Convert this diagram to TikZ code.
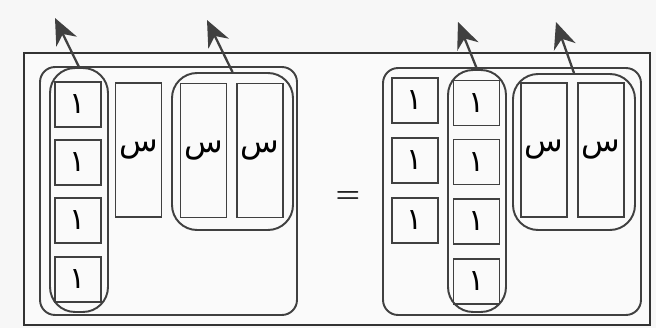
\documentclass[tikz,border=0pt]{standalone}
\usepackage{fontspec}
\newfontfamily\arabicfont[Script=Arabic]{DejaVu Sans}
\TeXXeTstate=1
\usetikzlibrary{arrows.meta}
\begin{document}
\begin{tikzpicture}[
        x=0.02cm, y=-0.02cm,
        every node/.style={line width=1.1pt, draw=black!75, inner sep=0pt},
        unit/.style={rectangle, minimum width=0.92cm, minimum height=0.9cm, font=\arabicfont\fontsize{17}{19}\selectfont},
        xbar/.style={rectangle, minimum width=0.92cm, minimum height=2.68cm, font=\arabicfont\fontsize{18}{20}\selectfont},
        pill/.style={rectangle, rounded corners=0.5cm},
        group/.style={rectangle, rounded corners=0.3cm},
        arrow/.style={line width=1.3pt, black!75, -{Stealth[length=15pt, width=13pt]}}
    ]
        \useasboundingbox (0,0) rectangle (656,328);
        \fill[black!3] (0,0) rectangle (656,328);
        \draw[line width=1.5pt, black!80, fill=black!2] (24,53) rectangle (650,325);

        % left side
        \node[group, minimum width=5.14cm, minimum height=4.96cm] (lgroup) at (168.5,191) {};
        \node[pill, minimum width=1.16cm, minimum height=4.88cm] (lpill) at (79,190) {};
        \node[unit] (lu1) at (78,104.5) {\beginR ١\endR};
        \node[unit] (lu2) at (78,162.5) {\beginR ١\endR};
        \node[unit] (lu3) at (78,220.5) {\beginR ١\endR};
        \node[unit] (lu4) at (78,279.5) {\beginR ١\endR};
        \node[xbar] (lx1) at (138.5,150) {\beginR س\endR};
        \node[pill, minimum width=2.42cm, minimum height=3.14cm] (lxpill) at (232.5,151.5) {};
        \node[xbar] (lx2) at (203.5,150.5) {\beginR س\endR};
        \node[xbar] (lx3) at (260,150.5) {\beginR س\endR};

        \node[draw=none, font=\bfseries\fontsize{16}{18}\selectfont] (eq) at (348,197) {=};

        % right side
        \node[group, minimum width=5.16cm, minimum height=4.94cm] (rgroup) at (512,191.5) {};
        \node[unit] (ru1) at (415,100.5) {\beginR ١\endR};
        \node[unit] (ru2) at (415,160.5) {\beginR ١\endR};
        \node[unit] (ru3) at (415,220.5) {\beginR ١\endR};
        \node[pill, minimum width=1.16cm, minimum height=4.84cm] (rpill) at (477,191) {};
        \node[unit] (rv1) at (476.5,103) {\beginR ١\endR};
        \node[unit] (rv2) at (476.5,162) {\beginR ١\endR};
        \node[unit] (rv3) at (476.5,221.5) {\beginR ١\endR};
        \node[unit] (rv4) at (476.5,281.5) {\beginR ١\endR};
        \node[pill, minimum width=2.44cm, minimum height=3.12cm] (rxpill) at (574,152) {};
        \node[xbar] (rx1) at (544,150) {\beginR س\endR};
        \node[xbar] (rx2) at (601,150) {\beginR س\endR};

        % arrow tips
        \coordinate (t1) at (55,18);
        \coordinate (t2) at (207,20);
        \coordinate (t3) at (458,22);
        \coordinate (t4) at (556,22);

        \draw[arrow] (lpill.north) -- (t1);
        \draw[arrow] (lxpill.north) -- (t2);
        \draw[arrow] (rpill.north) -- (t3);
        \draw[arrow] (rxpill.north) -- (t4);
    \end{tikzpicture}
\end{document}
